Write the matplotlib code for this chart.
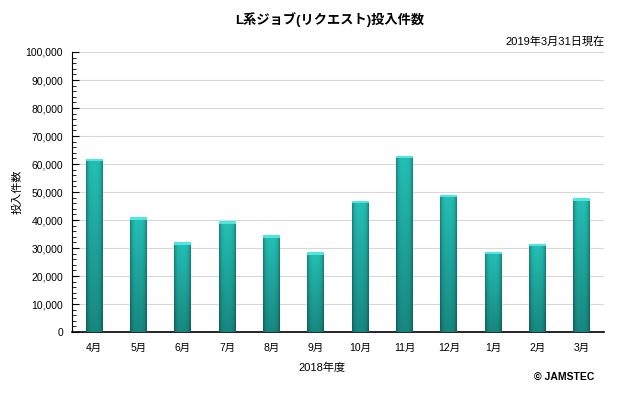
import matplotlib
matplotlib.use('Agg')
import matplotlib.pyplot as plt
import numpy as np
from matplotlib.ticker import MultipleLocator, FuncFormatter

plt.rcParams['font.family'] = ['Liberation Sans', 'Noto Sans CJK JP', 'DejaVu Sans']

months = ['4月', '5月', '6月', '7月', '8月', '9月', '10月', '11月', '12月', '1月', '2月', '3月']
jobs = [61800, 41000, 32100, 39600, 34600, 28400, 46900, 62900, 49000, 28600, 31600, 47700]

fig = plt.figure(figsize=(6.4, 3.95), dpi=100)
ax = fig.add_axes([72 / 640, 1 - 332 / 395, 532 / 640, 280 / 395])

x = np.arange(len(months))
bars = ax.bar(x, jobs, width=0.38, color='#1fa9a2', zorder=2)

# gradient fill for each bar: brighter at top, darker edges
top = np.array([0.14, 0.75, 0.71])
bot = np.array([0.09, 0.53, 0.50])
ny, nx = 100, 20
t = np.linspace(0, 1, ny)[:, None, None]
col = top * (1 - t) + bot * t
edge = 1 - 0.3 * np.abs(np.linspace(-1, 1, nx))[None, :, None] ** 4
grad = np.clip(col * edge, 0, 1)
for b in bars:
    x0, y0 = b.get_x(), b.get_y()
    w, h = b.get_width(), b.get_height()
    im = ax.imshow(grad, extent=[x0, x0 + w, y0, y0 + h], aspect='auto',
                   zorder=3, interpolation='bilinear')
    im.set_clip_path(b)
    # light cap at the top
    ax.bar(b.get_x() + w / 2, 900, width=w, bottom=h - 900, color='#4ee6de',
           zorder=4, linewidth=0)

ax.set_xlim(-0.5, len(months) - 0.5)
ax.set_ylim(0, 100000)
ax.yaxis.set_major_locator(MultipleLocator(10000))
ax.yaxis.set_minor_locator(MultipleLocator(2000))
ax.yaxis.set_major_formatter(FuncFormatter(lambda v, p: f'{int(v):,}'))
ax.set_xticks(x)
ax.set_xticklabels(months)
ax.tick_params(axis='x', length=0, labelsize=7.5, pad=8)
ax.tick_params(axis='y', which='major', direction='in', length=5, labelsize=7.5, pad=6.5)
ax.tick_params(axis='y', which='minor', direction='in', length=3)
ax.grid(axis='y', color='#d8d8d8', linewidth=0.8, zorder=0)
for s in ['top', 'right']:
    ax.spines[s].set_visible(False)
ax.spines['left'].set_linewidth(0.8)
ax.spines['bottom'].set_linewidth(1.2)

fig.text(330 / 640, 1 - 20 / 395, 'L系ジョブ(リクエスト)投入件数', ha='center', va='center',
         fontsize=9.5, fontweight='bold')
fig.text(605 / 640, 1 - 42 / 395, '2019年3月31日現在', ha='right', va='center', fontsize=8)
fig.text(18 / 640, 1 - 192 / 395, '投入件数', ha='center', va='center', rotation=90, fontsize=8)
fig.text(322 / 640, 1 - 368 / 395, '2018年度', ha='center', va='center', fontsize=8)
fig.text(564 / 640, 1 - 377 / 395, '© JAMSTEC', ha='center', va='center', fontsize=7.5,
         fontweight='bold')

fig.savefig('out.png', dpi=100)
